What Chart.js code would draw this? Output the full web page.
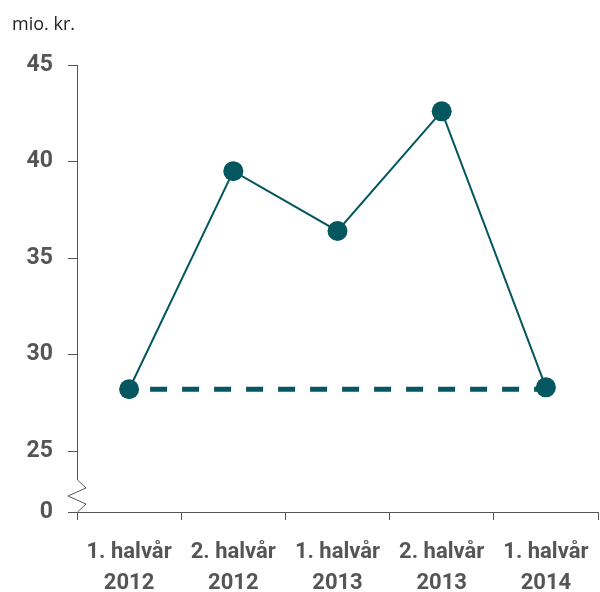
<!DOCTYPE html>
<html>
<head>
<meta charset="utf-8">
<script src="https://cdn.jsdelivr.net/npm/chart.js@4"></script>
<style>
  html, body { margin: 0; padding: 0; background: #fff; }
  #wrap { width: 600px; height: 592px; }
</style>
</head>
<body>
<div id="wrap"><canvas id="chart" width="600" height="592"></canvas></div>
<script>
// Data
const periods = [["1. halvår", "2012"], ["2. halvår", "2012"], ["1. halvår", "2013"], ["2. halvår", "2013"], ["1. halvår", "2014"]];
const values = [28.2, 39.5, 36.4, 42.6, 28.3];
const baseline = [28.2, null, null, null, 28.2];
const yTicks = [25, 30, 35, 40, 45];
const breakLabel = "0";
const unitLabel = "mio. kr.";

const teal = "#04575f";
const grey = "#555555";
const yMin = 21.84;

// axis line with the zigzag break drawn by hand
const axisBreak = {
    id: "axisBreak",
    afterDraw(chart) {
        const ctx = chart.ctx;
        const y = chart.scales.y;
        const x0 = chart.chartArea.left;
        const bottom = y.getPixelForValue(yMin);
        const top = chart.chartArea.top;
        ctx.save();
        ctx.strokeStyle = grey;
        ctx.lineWidth = 1;
        ctx.beginPath();
        ctx.moveTo(x0 + 0.5, top);
        ctx.lineTo(x0 + 0.5, bottom - 32);
        ctx.lineTo(x0 + 9, bottom - 24);
        ctx.lineTo(x0 - 9, bottom - 16);
        ctx.lineTo(x0 + 9, bottom - 8);
        ctx.lineTo(x0 + 0.5, bottom);
        ctx.stroke();

        ctx.fillStyle = "#222";
        ctx.font = "18px 'Open Sans', sans-serif";
        ctx.textBaseline = "middle";
        ctx.textAlign = "left";
        ctx.fillText(unitLabel, 12, 25);
        ctx.restore();
    }
};

new Chart(document.getElementById("chart"), {
    type: "line",
    data: {
        labels: periods,
        datasets: [
            {
                data: values,
                borderColor: teal,
                backgroundColor: teal,
                borderWidth: 2,
                pointRadius: 10,
                pointHoverRadius: 10,
                pointBorderWidth: 0,
                tension: 0,
                order: 1
            },
            {
                data: baseline,
                borderColor: teal,
                borderWidth: 5,
                borderDash: [17, 15],
                borderDashOffset: 11,
                pointRadius: 0,
                spanGaps: true,
                order: 2
            }
        ]
    },
    options: {
        responsive: false,
        animation: false,
        layout: { autoPadding: false, padding: { top: 65, right: 2, left: 0, bottom: 0 } },
        plugins: {
            legend: { display: false },
            tooltip: { enabled: false }
        },
        scales: {
            x: {
                offset: true,
                border: { display: true, color: grey, width: 1 },
                grid: {
                    offset: true,
                    drawOnChartArea: false,
                    drawTicks: true,
                    tickLength: 8,
                    color: grey
                },
                ticks: {
                    color: grey,
                    padding: 17,
                    maxRotation: 0,
                    font: { family: "Roboto", size: 22, weight: "bold", lineHeight: 1.4 }
                },
                afterFit(scale) {
                    scale.height = 80;
                    scale.paddingLeft = 0;
                    scale.paddingRight = 0;
                }
            },
            y: {
                min: yMin,
                max: 45,
                border: { display: false },
                grid: {
                    drawOnChartArea: false,
                    drawTicks: true,
                    tickLength: 9,
                    color: grey
                },
                ticks: {
                    color: grey,
                    padding: 15,
                    font: { family: "Roboto", size: 23, weight: "bold" },
                    callback: v => (v === yMin ? breakLabel : v)
                },
                afterBuildTicks(scale) {
                    scale.ticks = [yMin].concat(yTicks).map(v => ({ value: v }));
                },
                afterFit(scale) { scale.width = 77; }
            }
        }
    },
    plugins: [axisBreak]
});
</script>
</body>
</html>
